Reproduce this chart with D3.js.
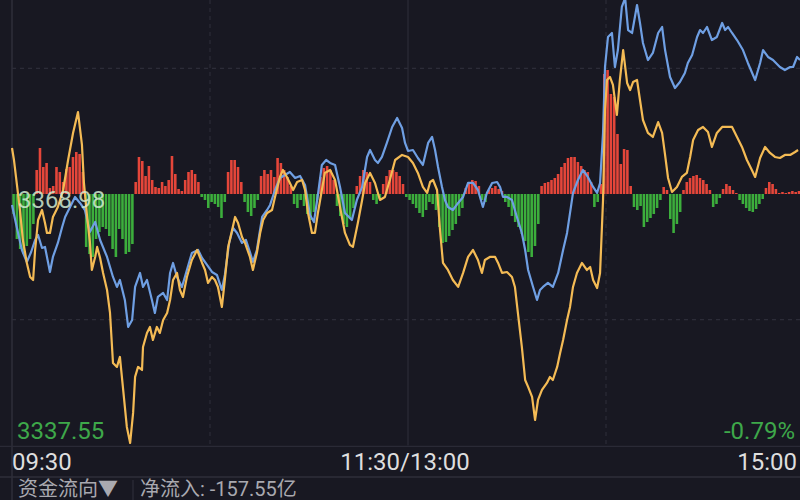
<!DOCTYPE html>
<html><head><meta charset="utf-8">
<script src="https://cdn.jsdelivr.net/npm/d3@7/dist/d3.min.js"></script>
<style>html,body{margin:0;padding:0;background:#181822;overflow:hidden}</style>
</head><body><svg id="c" width="800" height="500"></svg>
<script>
const prevClose = 3368.98;
const lowLabel = "3337.55";
const lowValue = 3337.55;
const pctLabel = "-0.79%";
const timeLabels = ["09:30", "11:30/13:00", "15:00"];
const timeTicks = [0, 120, 240];
const gridMinutes = [60, 120, 180];
const flowLabel = "资金流向▼";
const netLabel = "净流入: -157.55亿";

// net fund flow per minute (arbitrary units), minute 0..240
const flow = [-20,-45,-55,-60,-52,-45,-30,24,46,27,31,6,8,27,22,12,25,27,37,42,40,22,
-53,-60,-63,-45,-38,-33,-35,-42,-55,-63,-35,-45,-60,-58,-50,
12,37,33,18,28,14,7,6,12,8,14,38,20,5,3,14,22,24,20,12,-3,
-6,-14,-8,-10,-13,-24,-8,22,34,34,27,12,-8,-18,-22,-14,-6,
18,24,20,24,17,36,31,24,17,8,-10,-14,-6,-12,-20,-26,-18,-6,
17,26,28,24,14,-12,-22,-30,-33,-25,-14,8,18,24,22,12,-6,-10,-5,
10,18,24,24,22,18,10,-3,-6,-10,-14,-19,-23,-16,-8,
-10,-16,-33,-49,-48,-42,-36,-30,-22,-14,6,12,14,13,8,-6,-8,4,6,8,5,3,
-8,-13,-22,-28,-33,-40,-47,-58,-63,-52,-30,
8,11,12,14,16,20,27,31,36,37,37,32,28,24,22,12,-13,-8,10,
120,124,100,97,60,30,45,44,8,
-13,-16,-12,-33,-28,-24,-20,-14,-6,7,4,-25,-39,-30,-18,
4,12,16,18,19,16,14,10,4,-13,-10,-4,5,10,8,4,1,
-6,-10,-14,-17,-18,-15,-10,-5,6,12,10,5,1,2,1,2,3,2,3,4,2];

// index line (blue): minute, price
const blueMin = [0,1.5,3.0,4.5,5.8,7.0,7.9,9.1,10.0,10.9,11.5,12.4,13.9,15.2,16.1,17.6,19.1,20.6,22.1,23.6,25.2,26.7,28.8,30.6,31.8,32.7,34.2,35.2,36.4,37.3,38.8,39.7,40.9,42.4,43.3,44.2,45.8,47.0,47.9,48.8,50.0,51.5,53.0,54.5,56.4,57.6,59.1,60.6,62.1,63.6,64.5,65.8,67.0,68.2,69.7,70.9,72.1,73.0,74.2,75.8,77.3,78.2,79.7,81.2,82.7,84.2,85.8,87.3,88.8,90.3,91.5,92.7,93.9,95.2,96.4,97.9,99.4,100.9,103.0,104.5,106.1,107.6,108.5,110.0,110.9,112.1,113.6,115.2,116.7,118.2,119.1,120.0,121.5,123.0,124.5,126.1,127.3,128.2,129.1,130.3,131.2,132.1,133.6,135.2,136.7,138.2,139.7,141.2,142.7,143.9,145.5,147.0,147.9,148.8,150.0,151.5,153.0,154.5,155.5,156.4,157.9,159.1,160.0,160.9,162.4,163.9,165.5,167.0,168.2,169.1,170.0,171.5,173.0,174.5,176.1,177.3,178.2,179.1,179.7,180.6,181.8,182.7,183.6,184.8,185.8,186.7,187.9,189.4,190.3,191.2,192.7,194.2,195.8,197.0,197.9,199.4,200.9,202.4,203.9,204.8,206.1,207.6,208.5,209.4,210.6,212.1,213.6,215.2,216.1,217.0,218.2,219.7,221.5,223.0,225.2,226.7,227.6,229.1,230.6,232.7,234.2,235.8,236.7,237.9,238.8];
const blueVal = [3367.61,3364.73,3361.98,3360.48,3361.73,3363.23,3363.86,3362.23,3362.36,3360.48,3359.23,3361.11,3362.86,3364.86,3366.11,3367.36,3368.61,3367.86,3366.98,3364.23,3365.48,3363.23,3361.11,3358.61,3357.36,3358.23,3355.73,3352.36,3353.23,3357.36,3359.11,3357.36,3358.23,3355.73,3354.11,3356.11,3356.61,3355.73,3359.11,3360.36,3358.61,3357.36,3359.48,3361.61,3361.98,3360.98,3360.11,3359.23,3358.86,3356.98,3358.86,3362.86,3364.73,3364.11,3362.86,3363.23,3361.73,3360.48,3361.98,3366.11,3366.98,3367.61,3369.48,3370.98,3371.36,3371.73,3370.98,3371.23,3370.11,3366.36,3365.48,3368.86,3372.61,3373.23,3372.86,3372.61,3369.86,3366.61,3365.73,3368.23,3369.86,3373.61,3374.48,3373.23,3372.86,3373.61,3375.36,3377.36,3378.48,3377.23,3375.36,3374.36,3374.48,3373.48,3372.61,3375.36,3376.11,3374.48,3372.36,3369.86,3368.23,3367.36,3366.98,3367.86,3368.61,3370.36,3370.36,3369.48,3367.36,3369.11,3370.36,3370.48,3369.86,3368.61,3368.61,3368.23,3366.11,3364.11,3361.98,3359.48,3357.36,3355.73,3356.98,3357.36,3357.86,3357.36,3359.11,3361.98,3364.11,3366.61,3369.11,3370.73,3371.98,3371.11,3369.86,3369.11,3370.36,3376.61,3384.86,3388.61,3389.11,3384.86,3386.98,3392.36,3393.48,3389.48,3389.11,3392.61,3390.36,3387.86,3385.73,3386.61,3389.11,3389.86,3386.98,3383.61,3382.23,3382.98,3384.11,3385.36,3386.36,3388.61,3389.48,3389.11,3389.86,3388.23,3388.61,3390.36,3389.48,3389.86,3389.11,3388.23,3386.98,3385.36,3383.23,3385.36,3386.98,3386.11,3385.73,3384.86,3384.48,3384.86,3384.86,3386.11,3385.73];

// comparison line (yellow): minute, price
const yellowMin = [0,0.6,1.5,2.4,3.3,4.5,5.5,6.4,7.0,7.9,9.1,10.0,10.6,11.5,12.4,13.9,15.5,17.0,18.5,20.0,21.2,21.8,22.7,23.6,24.2,25.2,25.8,26.7,27.6,28.8,29.7,30.6,31.8,32.7,33.6,34.8,35.8,36.7,37.3,38.2,39.4,39.7,40.9,41.8,42.7,43.9,44.8,45.8,47.0,47.9,48.8,50.0,50.9,51.8,53.0,54.5,56.1,57.6,58.5,59.4,60.6,61.5,62.4,63.6,64.5,65.5,66.7,67.6,68.5,69.7,70.6,72.1,73.0,74.2,75.2,76.1,77.3,78.8,79.7,81.2,82.1,83.3,84.2,85.2,86.4,87.9,88.8,89.7,90.9,91.8,92.7,93.9,94.8,96.4,97.9,99.4,100.9,102.4,103.3,104.8,106.1,107.0,108.5,110.0,111.5,113.0,114.5,116.1,118.2,120.0,121.5,123.0,124.5,125.8,126.7,127.6,128.8,129.7,130.6,132.1,133.6,135.2,136.7,138.2,139.7,141.2,142.4,143.3,144.8,146.4,147.3,148.5,150.0,151.5,152.4,153.3,154.5,155.5,156.4,157.6,158.5,159.4,160.6,162.1,163.0,163.9,165.2,166.1,167.0,168.2,169.1,170.0,171.2,172.7,174.2,175.2,176.1,177.3,178.2,179.1,179.7,180.3,181.2,182.1,183.3,184.2,185.2,186.4,187.3,188.2,189.4,190.3,191.2,192.7,194.2,195.8,197.0,197.9,198.8,200.0,201.5,203.0,204.5,205.5,206.4,207.9,209.4,210.9,212.1,213.6,215.2,216.7,218.2,219.7,221.2,222.7,224.2,225.2,226.7,228.2,229.7,231.2,232.7,234.2,235.8,237.3,238.2];
const yellowVal = [3374.73,3373.23,3370.11,3366.98,3363.23,3360.36,3358.61,3358.23,3361.98,3365.73,3366.98,3365.36,3364.11,3364.11,3366.11,3367.36,3369.48,3373.23,3376.61,3379.23,3375.11,3370.36,3366.36,3362.98,3359.48,3361.11,3362.36,3360.98,3359.11,3356.98,3354.11,3347.86,3347.36,3348.61,3344.86,3339.86,3337.86,3341.61,3346.11,3347.36,3346.98,3349.86,3351.61,3352.36,3350.73,3352.36,3351.61,3353.23,3354.11,3355.73,3358.23,3359.11,3356.98,3356.11,3358.61,3360.73,3361.98,3360.36,3359.48,3357.86,3358.61,3358.23,3357.36,3354.86,3358.23,3362.36,3364.48,3366.11,3365.36,3363.61,3362.86,3361.11,3359.48,3361.61,3364.11,3365.73,3366.61,3366.98,3368.61,3371.11,3371.98,3371.11,3370.36,3369.48,3370.48,3370.73,3369.48,3366.61,3364.11,3364.11,3366.61,3369.48,3371.61,3371.98,3370.73,3367.36,3364.11,3362.61,3362.36,3365.36,3368.23,3370.36,3371.61,3370.36,3368.23,3368.61,3370.73,3373.23,3373.86,3373.61,3372.86,3371.61,3369.86,3369.11,3370.48,3370.73,3369.48,3364.48,3360.36,3359.48,3358.23,3357.36,3359.11,3361.11,3361.98,3360.73,3359.11,3360.73,3361.11,3361.11,3360.36,3359.11,3359.23,3358.61,3357.36,3354.11,3349.86,3345.73,3344.86,3343.61,3340.73,3343.23,3344.48,3345.36,3346.11,3345.73,3347.36,3349.11,3350.73,3353.23,3354.86,3357.36,3359.11,3360.36,3359.48,3359.86,3358.23,3357.23,3359.11,3368.23,3379.48,3383.23,3383.61,3382.61,3378.86,3383.23,3386.98,3382.86,3381.98,3382.98,3383.23,3380.73,3378.23,3376.61,3376.11,3377.98,3376.61,3373.86,3370.98,3369.23,3369.86,3371.11,3371.61,3373.61,3375.73,3376.98,3377.36,3376.73,3374.86,3376.61,3377.36,3377.36,3377.36,3376.11,3374.86,3373.23,3371.98,3371.11,3373.48,3374.86,3374.11,3373.61,3373.48,3373.86,3373.86,3374.23,3374.48];

const W = 800, H = 500;
const svg = d3.select("#c");
const x = d3.scaleLinear().domain([0, 240]).range([12, 804]);
const y = d3.scaleLinear().domain([lowValue, prevClose]).range([445.4, 194]);
const y0 = y(prevClose);
const fy = d3.scaleLinear().domain([-130, 130]).range([y0 + 130, y0 - 130]);

const gridCol = "#2c2c38";
const half = (prevClose - lowValue) / 2;
[prevClose + half, prevClose - half].forEach(v => {
  svg.append("line").attr("x1", 12).attr("x2", W).attr("y1", y(v)).attr("y2", y(v))
    .attr("stroke", gridCol).attr("stroke-width", 1.2).attr("stroke-dasharray", "4,4");
});
gridMinutes.forEach((m, i) => {
  svg.append("line").attr("x1", x(m)).attr("x2", x(m)).attr("y1", 0).attr("y2", y(lowValue))
    .attr("stroke", gridCol).attr("stroke-width", 1.2)
    .attr("stroke-dasharray", i === 1 ? null : "4,4");
});
svg.append("line").attr("x1", x(0)).attr("x2", x(0)).attr("y1", 0).attr("y2", H)
  .attr("stroke", "#2e2e3a").attr("stroke-width", 1.5);
svg.append("line").attr("x1", 0).attr("x2", W).attr("y1", y(lowValue) + 1).attr("y2", y(lowValue) + 1)
  .attr("stroke", "#2a2a36").attr("stroke-width", 1.2);
svg.append("line").attr("x1", 0).attr("x2", W).attr("y1", 477).attr("y2", 477)
  .attr("stroke", "#2e2e3a").attr("stroke-width", 1.5);
svg.append("line").attr("x1", 133).attr("x2", 133).attr("y1", 480).attr("y2", H)
  .attr("stroke", "#2e2e3a").attr("stroke-width", 1.2);

const step = x(1) - x(0);
svg.append("g").selectAll("rect").data(flow).join("rect")
  .attr("x", (d, i) => x(i) + 0.3)
  .attr("width", step * 0.78)
  .attr("y", d => d >= 0 ? fy(d) : y0)
  .attr("height", d => Math.abs(fy(d) - y0))
  .attr("fill", d => d >= 0 ? "#e5463a" : "#3cae3c");

const line = d3.line().x(d => x(d[0])).y(d => y(d[1]));
const blue = blueMin.map((m, i) => [m, blueVal[i]]);
const yellow = yellowMin.map((m, i) => [m, yellowVal[i]]);
svg.append("path").attr("d", line(blue)).attr("fill", "none")
  .attr("stroke", "#6f9fe3").attr("stroke-width", 2.2).attr("stroke-linejoin", "round");
svg.append("path").attr("d", line(yellow)).attr("fill", "none")
  .attr("stroke", "#f4bb55").attr("stroke-width", 2.2).attr("stroke-linejoin", "round");

const font = "Roboto, 'Noto Sans CJK SC', sans-serif";
svg.append("text").attr("x", 18).attr("y", y0 + 14).text(prevClose.toFixed(2))
  .attr("font-family", font).attr("font-size", 24).attr("fill", "#d2ecd2").attr("fill-opacity", 0.85);
svg.append("text").attr("x", 17).attr("y", 439).text(lowLabel)
  .attr("font-family", font).attr("font-size", 24).attr("fill", "#3ea84a");
svg.append("text").attr("x", 795).attr("y", 439).attr("text-anchor", "end").text(pctLabel)
  .attr("font-family", font).attr("font-size", 24).attr("fill", "#3ea84a");
timeTicks.forEach((m, i) => {
  const anchor = i === 0 ? "start" : (i === 2 ? "end" : "middle");
  const px = i === 0 ? 12 : (i === 2 ? 797 : x(m) - 3);
  svg.append("text").attr("x", px).attr("y", 470).attr("text-anchor", anchor)
    .text(timeLabels[i]).attr("font-family", font).attr("font-size", 24).attr("fill", "#dedede");
});
svg.append("text").attr("x", 18).attr("y", 496).text(flowLabel)
  .attr("font-family", font).attr("font-size", 20).attr("fill", "#a9a9b0");
svg.append("text").attr("x", 140).attr("y", 496).text(netLabel)
  .attr("font-family", font).attr("font-size", 20).attr("fill", "#a9a9b0");
</script></body></html>
